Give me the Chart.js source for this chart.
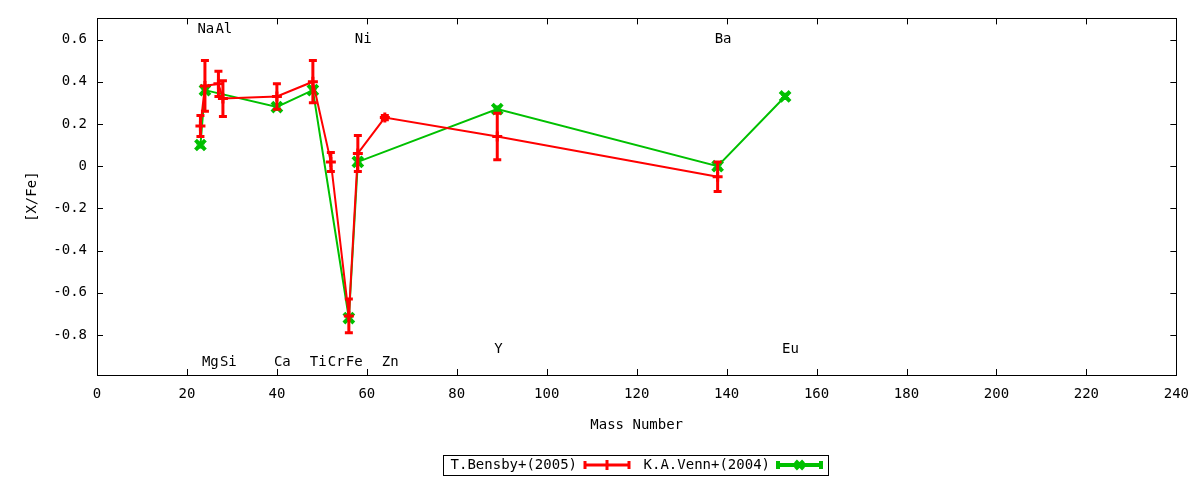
<!DOCTYPE html>
<html lang="en">
<head>
    <meta charset="UTF-8">
    <title>[X/Fe] vs Mass Number</title>
    <script src="https://cdn.jsdelivr.net/npm/chart.js"></script>
    <style>
        body { margin: 0; background: #fff; }
        #wrap { width: 1200px; height: 480px; }
    </style>
</head>
<body>
    <div id="wrap"><canvas id="chart" width="1200" height="480"></canvas></div>

    <script>
        // T.Bensby+(2005)
        const bensbyMass = [23, 24, 27, 28, 40, 48, 52, 56, 58, 64, 89, 138];
        const bensbyVal  = [0.19, 0.38, 0.39, 0.32, 0.33, 0.40, 0.02, -0.71, 0.06, 0.23, 0.14, -0.05];
        const bensbyErr  = [0.05, 0.12, 0.06, 0.085, 0.06, 0.10, 0.045, 0.08, 0.085, 0.01, 0.11, 0.07];

        // K.A.Venn+(2004)
        const vennMass = [23, 24, 40, 48, 56, 58, 89, 138, 153];
        const vennVal  = [0.10, 0.36, 0.28, 0.36, -0.72, 0.02, 0.27, 0.00, 0.33];
        const vennErr  = [0.01, 0.01, 0.01, 0.01, 0.01, 0.01, 0.01, 0.01, 0.01];

        // element labels (mass number, [X/Fe] position)
        const labelNames = ['Na', 'Al', 'Mg', 'Si', 'Ca', 'Ti', 'Cr', 'Fe', 'Ni', 'Zn', 'Y', 'Ba', 'Eu'];
        const labelMass  = [23, 27, 24, 28, 40, 48, 52, 56, 58, 64, 89, 138, 153];
        const labelY     = [0.65, 0.65, -0.93, -0.93, -0.93, -0.93, -0.93, -0.93, 0.6, -0.93, -0.87, 0.6, -0.87];

        const yTicks = [-0.8, -0.6, -0.4, -0.2, 0, 0.2, 0.4, 0.6];

        const FONT = '"DejaVu Sans Mono", monospace';
        const FSIZE = 14;
        const RED = '#ff0000';
        const GREEN = '#00c000';

        const toPoints = (xs, ys) => xs.map((x, i) => ({ x: x, y: ys[i] }));

        const errorBars = {
            id: 'errorBars',
            afterDatasetDraw(chart, args) {
                const ds = chart.data.datasets[args.index];
                const xs = chart.scales.x, ys = chart.scales.y;
                const ctx = chart.ctx;
                ctx.save();
                ctx.strokeStyle = ds.borderColor;
                ctx.lineWidth = 3;
                ds.data.forEach((p, i) => {
                    const e = ds.errors[i];
                    const x = xs.getPixelForValue(p.x);
                    const y1 = ys.getPixelForValue(p.y + e);
                    const y2 = ys.getPixelForValue(p.y - e);
                    ctx.beginPath();
                    ctx.moveTo(x, y1); ctx.lineTo(x, y2);
                    ctx.moveTo(x - 4, y1); ctx.lineTo(x + 4, y1);
                    ctx.moveTo(x - 4, y2); ctx.lineTo(x + 4, y2);
                    ctx.stroke();
                });
                ctx.restore();
            }
        };

        const frame = {
            id: 'frame',
            afterDraw(chart) {
                const { ctx, chartArea: a } = chart;
                const xs = chart.scales.x, ys = chart.scales.y;
                ctx.save();
                ctx.strokeStyle = '#000';
                ctx.lineWidth = 1;
                ctx.strokeRect(Math.round(a.left) + 0.5, Math.round(a.top) + 0.5,
                    Math.round(a.right - a.left), Math.round(a.bottom - a.top));

                // inward + mirrored tick marks
                ctx.beginPath();
                xs.ticks.forEach(t => {
                    const x = Math.round(xs.getPixelForValue(t.value)) + 0.5;
                    ctx.moveTo(x, a.bottom); ctx.lineTo(x, a.bottom - 6);
                    ctx.moveTo(x, a.top); ctx.lineTo(x, a.top + 6);
                });
                ys.ticks.forEach(t => {
                    const y = Math.round(ys.getPixelForValue(t.value)) + 0.5;
                    ctx.moveTo(a.left, y); ctx.lineTo(a.left + 6, y);
                    ctx.moveTo(a.right, y); ctx.lineTo(a.right - 6, y);
                });
                ctx.stroke();

                // element labels
                ctx.fillStyle = '#000';
                ctx.font = FSIZE + 'px ' + FONT;
                ctx.textAlign = 'left';
                ctx.textBaseline = 'middle';
                labelNames.forEach((name, i) => {
                    ctx.fillText(name, xs.getPixelForValue(labelMass[i]) - 3, ys.getPixelForValue(labelY[i]));
                });

                // legend
                const ly = 465;
                ctx.strokeRect(443.5, 455.5, 385, 20);
                ctx.textAlign = 'right';
                ctx.fillText('T.Bensby+(2005)', 577, ly);
                ctx.fillText('K.A.Venn+(2004)', 770, ly);

                const sample = (x0, x1, color, mark) => {
                    ctx.strokeStyle = color;
                    ctx.lineWidth = 3;
                    ctx.beginPath();
                    ctx.moveTo(x0, ly); ctx.lineTo(x1, ly);
                    ctx.moveTo(x0, ly - 4); ctx.lineTo(x0, ly + 4);
                    ctx.moveTo(x1, ly - 4); ctx.lineTo(x1, ly + 4);
                    const xm = (x0 + x1) / 2;
                    if (mark === 'cross') {
                        ctx.moveTo(xm, ly - 5); ctx.lineTo(xm, ly + 5);
                    } else {
                        ctx.lineWidth = 4;
                        ctx.moveTo(xm - 4, ly - 4); ctx.lineTo(xm + 4, ly + 4);
                        ctx.moveTo(xm - 4, ly + 4); ctx.lineTo(xm + 4, ly - 4);
                    }
                    ctx.stroke();
                };
                sample(585, 629, RED, 'cross');
                sample(778, 821, GREEN, 'crossRot');
                ctx.restore();
            }
        };

        new Chart(document.getElementById('chart'), {
            type: 'scatter',
            data: {
                datasets: [
                    {
                        label: 'T.Bensby+(2005)',
                        data: toPoints(bensbyMass, bensbyVal),
                        errors: bensbyErr,
                        showLine: true,
                        borderColor: RED,
                        backgroundColor: RED,
                        borderWidth: 2,
                        pointStyle: 'cross',
                        pointRadius: 5,
                        pointBorderWidth: 3,
                        tension: 0
                    },
                    {
                        label: 'K.A.Venn+(2004)',
                        data: toPoints(vennMass, vennVal),
                        errors: vennErr,
                        showLine: true,
                        borderColor: GREEN,
                        backgroundColor: GREEN,
                        borderWidth: 2,
                        pointStyle: 'crossRot',
                        pointRadius: 7,
                        pointBorderWidth: 4,
                        tension: 0
                    }
                ]
            },
            options: {
                responsive: false,
                animation: false,
                events: [],
                layout: { padding: { left: 0, right: 23, top: 17, bottom: 0 } },
                plugins: {
                    legend: { display: false },
                    tooltip: { enabled: false }
                },
                scales: {
                    x: {
                        type: 'linear',
                        min: 0,
                        max: 240,
                        grid: { display: false, drawTicks: false },
                        border: { display: false },
                        ticks: {
                            stepSize: 20,
                            padding: 11,
                            color: '#000',
                            font: { family: FONT, size: FSIZE },
                            maxRotation: 0
                        },
                        title: {
                            display: true,
                            text: 'Mass Number',
                            color: '#000',
                            font: { family: FONT, size: FSIZE },
                            padding: { top: 0, bottom: 46 }
                        },
                        afterFit: s => { s.height = 105; }
                    },
                    y: {
                        type: 'linear',
                        min: -0.99,
                        max: 0.7,
                        grid: { display: false, drawTicks: false },
                        border: { display: false },
                        afterBuildTicks: s => { s.ticks = yTicks.map(v => ({ value: v })); },
                        ticks: {
                            padding: 10,
                            color: '#000',
                            font: { family: FONT, size: FSIZE },
                            callback: v => String(v)
                        },
                        title: {
                            display: true,
                            text: '[X/Fe]',
                            color: '#000',
                            font: { family: FONT, size: FSIZE },
                            padding: { top: 24, bottom: 0 }
                        },
                        afterFit: s => { s.width = 97; }
                    }
                }
            },
            plugins: [errorBars, frame]
        });
    </script>
</body>
</html>
